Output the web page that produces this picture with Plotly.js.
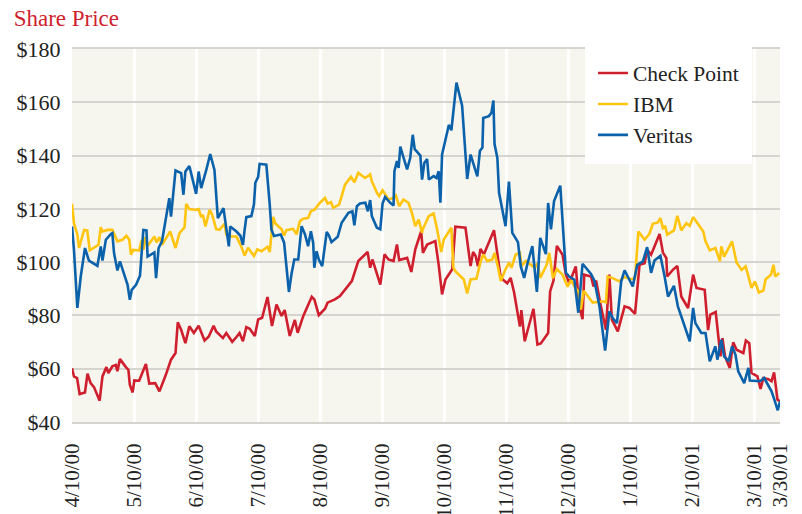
<!DOCTYPE html>
<html>
<head>
<meta charset="utf-8">
<script src="https://cdn.plot.ly/plotly-3.0.1.min.js"></script>
<style>html,body{margin:0;padding:0;background:#fff;}#chart{width:802px;height:514px;}</style>
</head>
<body>
<div id="chart"></div>
<script>
// Trading-day index positions of the tick labels
const tickIdx = [0, 22, 44, 66, 88, 110, 132, 154, 176, 198, 220, 242, 251];
const tickLabels = ['4/10/00','5/10/00','6/10/00','7/10/00','8/10/00','9/10/00','10/10/00','11/10/00','12/10/00','1/10/01','2/10/01','3/10/01','3/30/01'];

// Check Point
const cpX = [0,0.7,1.8,2.7,4.6,5.5,6.6,7.8,9.8,10.8,12.2,12.9,14.3,15.5,16.1,17,19.1,20,20.5,21.5,22.1,23.8,26.2,27.4,29.5,31,33.3,35.1,36.7,37.5,38.7,40.2,41.6,43.2,44.9,47,48.5,50.2,51.1,53.5,54.7,56.8,58.3,59.4,60.6,61.8,63,64.8,66,67.4,69.3,70.9,72.5,74.3,75.4,76,77.2,79,80,80.8,82,85,85.9,87.5,89.7,90.6,93.2,95,96.8,99.2,101.5,104.8,105.7,106.5,109.3,110.8,112.2,114,115.2,116,118.8,120.3,121.7,123.8,124.4,125.9,128.8,130,131.2,132.4,134.8,135.9,139.5,141.3,142.2,143.1,143.9,144.8,146,149.6,152,154.3,155.5,156.7,158.8,159.3,160.5,163.6,165,166.2,168.8,169.5,170.7,171.9,173.9,175.1,176.3,178.6,179.8,181,181.6,184,184.9,185.8,187.5,189.3,190.5,191.4,193.5,195.9,197.6,199.6,201.2,203,203.9,205.3,206.5,208.3,209.5,210.7,211,213,214.6,216,218.4,220.2,221.4,224.3,225.5,226.3,228.2,229.1,229.9,230.6,231.5,233.2,234.4,235.6,238,238.9,240.1,240.9,243,244.1,245.1,246.9,248,248.9,250.1,251];
const cpY = [60.2,57.1,56.5,50.5,51.1,58.1,54.6,53.1,48,57.1,60.6,58.4,60.9,61.4,59.1,63.6,60.6,59.6,54,51.1,55.6,55.5,61.8,54.4,54.6,51.5,57.8,63.4,65.9,77.4,74.6,69.6,75.9,73.4,76.1,70.6,72.1,76.1,74,71.5,73.4,70.1,71.9,73.4,70.3,75.6,75,72.3,78.5,79.1,86.9,76,84.1,79.8,82,78.8,72.3,78.3,73.5,76,79.8,87,86,80.1,82.5,84.8,86,87.3,89.8,92.9,100.4,103.8,97.9,101,91.6,102.9,101,100.4,106.6,100.8,101.6,96.3,104.8,111.6,103.5,106.6,107.9,99,87.9,93.5,97.3,113.3,112.9,98.5,103.8,102.3,98.5,105,102.9,112,94.1,92.1,94.1,88.8,75.8,82,70.3,82.5,69.1,69.5,73.4,89,93.1,106.1,102.8,95.3,92.1,98.4,83.4,78.6,95.3,94.6,90.9,93.1,83.4,74.6,95.3,78.4,74,83.4,82.8,80.6,99,99.6,104.6,102.8,105.9,110.6,103.6,101.5,94.6,97.1,98.6,87.1,82.8,95.3,90.3,89.6,74.5,80.3,81.3,70.9,64.6,71.5,64.6,60.3,69.9,67.1,65.9,70.6,69.6,58.4,57.1,52.4,56.5,56.1,55.3,58.6,48.4,47.8];

// IBM
const ibmX = [0,0.7,1.9,2.5,4.3,5.4,6.3,8.4,9.4,10.2,10.8,12.6,14.3,16.1,17.9,19.3,20.3,20.9,21.7,23.8,24.8,25.3,26,26.8,29.2,30,31,31.9,34.8,36.7,38.1,39.9,40.5,41.6,43.8,44.9,45.8,46.4,47.3,48.8,49.7,51.1,52.3,54.1,54.7,55.9,58.3,60,61.2,62.4,64.5,65.7,67.2,69.3,70.1,71.3,72.1,74.3,75.2,76,78.4,79.6,80.8,82,83.7,84.7,86.1,87.9,89.7,90.6,91.8,92.6,94.7,95.6,96.8,98.9,100.1,101.5,103.9,105.7,106.3,108.1,108.9,110.1,111,112.2,114,114.8,116,117.5,119.3,120.5,121.7,122.9,124.1,124.4,125.3,126.5,128.2,129.4,130.9,131.8,134.5,135.2,135.9,138.9,140.1,141.3,143.4,144.8,145.8,147.2,149,149.8,151,152,153.7,154.9,155.8,157.3,158.8,159.3,160.9,162.4,164.1,165,166,167.6,168.3,169.2,170.5,171.9,173.9,175.7,176.9,178.1,179.5,180.4,181.4,182.8,184.6,188.1,189.3,189.9,191.7,194,195.9,198.2,199.6,200.8,203,204.7,205.9,207.7,208.6,209.5,210.3,211,213.4,214.6,216,217.8,219,220.2,222,223.8,224.6,226.1,228.1,229.7,230.2,231.2,234,235.6,237.4,238.8,239.5,240.9,242.1,243.5,245.1,245.9,247.8,248.7,249.3,250.7];
const ibmY = [121.9,114.6,110.3,105.3,112.1,111.9,104.4,105.9,106.5,113.1,111.5,112.1,112.1,107.8,108.4,109.9,108.4,102.8,104.6,104.4,108.4,104.6,109.4,106.1,109.6,107.4,109.4,106.5,111.5,105.3,110.9,113.1,121.9,119.9,119.6,119.9,116.9,117.8,113.4,119.6,117.8,112.4,112.1,114.4,110.3,109.6,109.6,105.9,102.5,105.4,102.3,104.8,104.1,105.8,103.8,117,114.5,112.3,110,112,112.5,110.4,115.4,116.3,116.6,119.1,119.8,122.3,124.1,122,122.5,120.4,121.6,124.8,129.1,132,130,133.5,131.6,132.9,130.4,126,124.8,127,125.4,123.5,124.1,125,121,123.5,122.3,118.5,113.5,116,111,112.5,114.5,117.3,118.3,112.5,103.8,108.5,112.9,97.9,96.6,93.5,88.3,93.5,93.8,100,102.9,100.4,101,103.5,98.3,92.9,97.3,99.8,97.9,102.9,103.5,98.5,100.4,99.1,97.9,99.5,94.1,97.5,99.1,103.5,94,97.4,95.3,90.8,93.3,90.9,89,82.2,89.3,87.3,84.8,85.3,84.9,94.6,94,92.8,94.4,93.6,94,111.5,108.4,110.6,114.4,114.9,116.5,112.8,113.6,110.3,111.9,117.4,111.9,114.6,113.6,116.9,114.1,111.5,107.8,104.4,105.3,100.3,105.9,102.1,107.8,99.9,97.1,98.4,95.9,90.3,92.8,88.6,89.3,93.6,95.3,99,94.6,95.9];

// Veritas
const vrX = [0,0.7,1.9,3.1,4.6,6,9,10.2,10.8,12,13.8,14.3,14.9,16.1,17,18.5,19.7,20.5,21.2,22.7,24.1,25.3,26.4,26.8,28,29.2,29.8,30.7,31.9,33.3,34.5,35.1,36.7,38.7,39.5,40.2,41.6,42.8,44,44.9,45.8,47.6,49,50.5,51.7,53.7,54.4,55.6,56.1,58.3,59.7,60.6,61.2,61.8,63.6,64.5,65,66,66.5,68.9,70.1,70.7,71.6,74,75.2,76,76.9,77.8,78.8,80.2,81.4,82.6,83.7,84.7,85.5,85.9,86.7,87.5,88.7,90.3,91.1,92,94.2,95.6,98,99.4,100.1,101,102.1,104,104.9,105.7,106.3,108.1,109.3,110.1,111,112.8,114,114.3,115.2,115.8,116.4,117.2,118.8,119.9,120.8,121.5,123.5,124.1,124.9,125.9,126.5,128.2,129.2,130,130.6,131.2,132.4,133.6,134.5,135.4,136.3,138.3,140.1,141.3,142.7,143.7,144.6,145.5,145.8,147.8,148.7,149.4,149.8,150.8,151.4,152.6,153.7,154.9,156.1,158.1,159.1,160.3,161.5,163.2,164.8,166,168,168.8,169.8,170.9,173.1,175.1,176.3,178.1,179.5,181,184,185.2,187,189,190.5,191.7,193.2,194.7,195.9,197.6,198.8,200.4,202.4,203.9,205.3,206.5,208.6,210.1,211.3,213.4,214.8,219,220.2,221,223.1,224.6,225.5,226.1,228.1,228.8,230.2,231.2,232.8,234,235.2,236.2,238.3,239.8,240.3,243.9,245.4,248,249,250.2,251];
const vrY = [113.4,104.6,82.8,94.6,105.3,100.6,98.6,105.9,100.6,108.4,110.6,110.9,103.4,96.9,100.3,95.3,91.5,85.9,89.6,91.5,94.9,112.1,111.9,102.1,102.8,103.6,94,105.3,107.8,115.9,124,117.1,134.4,133.4,125.3,134,136.1,130.9,125.6,134,127.8,134.6,140.6,134.6,116.5,120.3,115.3,105.9,113.4,111.5,109.9,106.5,112.1,116.9,117.3,121.6,129.8,132,136.9,136.6,121.6,112.3,109.8,110.4,107.3,97.3,88.8,95.4,101,101,113.5,110.4,106,111.6,107.3,97.9,104.1,101,98.5,111.3,110,107.5,109.5,114.8,118.5,119.1,113.8,121,122,122.3,119.1,123.3,117.3,112.9,112.3,122,124.5,122.3,121.3,134.1,137.9,135.4,143.4,140.4,134.8,139.1,147.8,142.4,140,131,137.2,138.7,131,132.3,131.6,134.1,122.3,140.4,145.6,151.5,149.5,159.3,167.4,158.7,131.2,140.4,135.2,132.2,141.7,143,154.1,154.8,156.1,160.7,144.3,139.1,126,119.8,113.5,130.2,111,107.5,98.4,94.1,99.6,106,88.8,109.1,103,122.2,112.3,122.9,128.7,96,94.6,93.4,81,99.4,95.6,93,83.4,66.8,81.5,79,77.1,92.8,96.9,93.4,90.9,99,100.3,105.6,96,100.6,102.4,94.6,87.1,91.1,83.4,70.3,82.8,77.1,73.4,73.4,65.9,62.8,68.4,63.4,70.9,64.6,62.8,68.4,65.3,59,54.6,60.3,55.6,55.3,56.5,51.5,48.4,44.4,47.8];

const yTickVals = [40, 60, 80, 100, 120, 140, 160, 180];
const yTickText = ['$40','$60','$80','$100','$120','$140','$160','$180'];

const serif = '"Liberation Serif", "DejaVu Serif", serif';
const lw = 2.6;
const traces = [
  {x: cpX, y: cpY, name: 'Check Point', type: 'scatter', mode: 'lines', line: {color: '#cf1f2e', width: lw}},
  {x: ibmX, y: ibmY, name: 'IBM', type: 'scatter', mode: 'lines', line: {color: '#ffc510', width: lw}},
  {x: vrX, y: vrY, name: 'Veritas', type: 'scatter', mode: 'lines', line: {color: '#0b62ab', width: lw}}
];
const layout = {
  width: 802, height: 514,
  margin: {l: 72, r: 22, t: 49, b: 92, pad: 0},
  paper_bgcolor: '#ffffff',
  plot_bgcolor: '#f6f5ee',
  font: {family: serif, size: 21, color: '#222222'},
  title: {text: 'Share Price', font: {family: serif, size: 23, color: '#cf1f2e'}, xref: 'container', yref: 'container', x: 0.017, xanchor: 'left', y: 0.965, yanchor: 'middle'},
  showlegend: true,
  legend: {x: 0.7246, y: 1.012, xanchor: 'left', yanchor: 'top', bgcolor: '#ffffff', bordercolor: '#ffffff', borderwidth: 8,
           font: {family: serif, size: 21.5, color: '#222222'}, tracegroupgap: 0},
  xaxis: {
    type: 'linear', range: [0, 251], tickmode: 'array', tickvals: tickIdx, ticktext: tickLabels,
    tickangle: -90, showgrid: true, gridcolor: '#ffffff', gridwidth: 3, zeroline: false,
    showline: true, linecolor: '#d5d4ce', linewidth: 2, mirror: true,
    ticks: 'outside', ticklen: 11, tickcolor: 'rgba(0,0,0,0)', tickfont: {family: serif, size: 21, color: '#222222'}
  },
  yaxis: {
    range: [40, 180], tickmode: 'array', tickvals: yTickVals, ticktext: yTickText,
    showgrid: true, gridcolor: '#d5d4ce', gridwidth: 2, zeroline: false, showline: false,
    ticks: 'outside', ticklen: 6, tickcolor: 'rgba(0,0,0,0)', tickfont: {family: serif, size: 22, color: '#222222'}
  }
};
Plotly.newPlot('chart', traces, layout, {displayModeBar: false, staticPlot: true});
</script>
</body>
</html>
